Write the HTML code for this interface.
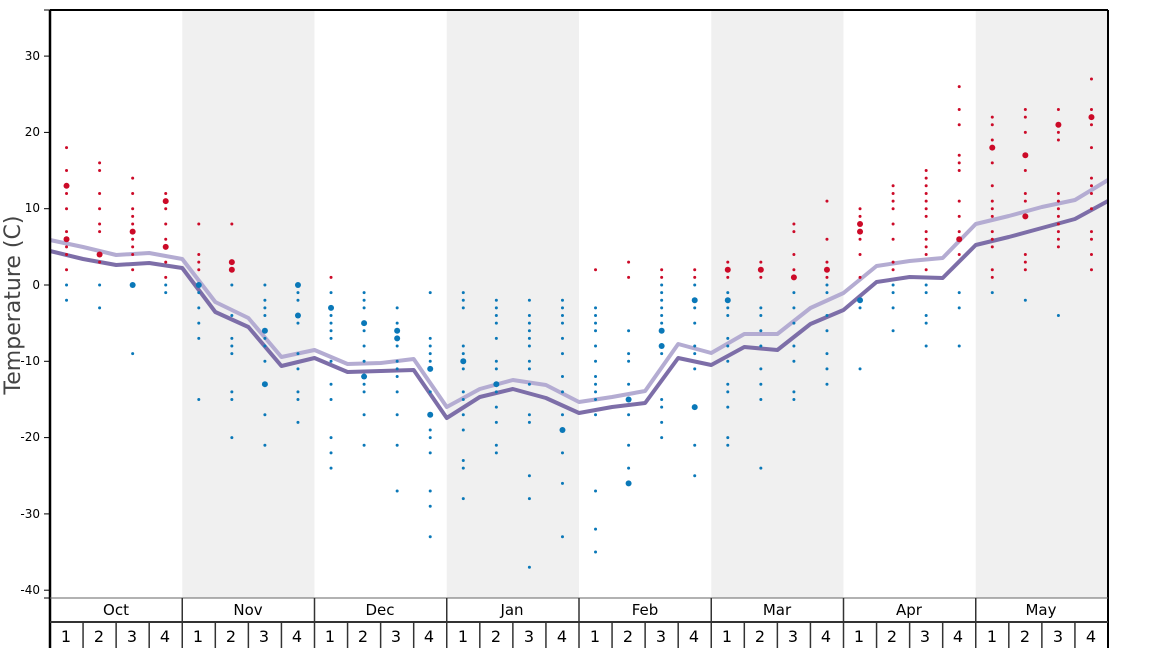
<!DOCTYPE html>
<html><head><meta charset="utf-8"><style>
html,body{margin:0;padding:0;background:#fff}
svg{display:block;font-family:"DejaVu Sans","Liberation Sans",sans-serif}
</style></head><body>
<svg id="s" width="1168" height="648" viewBox="0 0 1168 648">
<g id="bg"></g>
<g id="lines"></g>
<g id="dots"></g>
<g font-size="12" fill="#000" text-anchor="end">
<text x="40" y="60">30</text><text x="40" y="136">20</text><text x="40" y="212">10</text>
<text x="40" y="289">0</text><text x="40" y="365">-10</text><text x="40" y="441">-20</text>
<text x="40" y="518">-30</text><text x="40" y="594">-40</text>
</g>
<text transform="translate(20,305) rotate(-90)" font-size="22" fill="#444" text-anchor="middle">Temperature (C)</text>
<g font-size="15" text-anchor="middle" fill="#000">
<text x="116" y="615">Oct</text><text x="248" y="615">Nov</text><text x="380" y="615">Dec</text><text x="512" y="615">Jan</text>
<text x="645" y="615">Feb</text><text x="777" y="615">Mar</text><text x="909" y="615">Apr</text><text x="1041" y="615">May</text>
</g>
<g id="wk" font-size="16" text-anchor="middle" fill="#000">
<text x="66" y="642">1</text><text x="99" y="642">2</text><text x="132" y="642">3</text><text x="165" y="642">4</text>
<text x="198" y="642">1</text><text x="231" y="642">2</text><text x="264" y="642">3</text><text x="297" y="642">4</text>
<text x="330" y="642">1</text><text x="363" y="642">2</text><text x="396" y="642">3</text><text x="429" y="642">4</text>
<text x="463" y="642">1</text><text x="496" y="642">2</text><text x="529" y="642">3</text><text x="562" y="642">4</text>
<text x="595" y="642">1</text><text x="628" y="642">2</text><text x="661" y="642">3</text><text x="694" y="642">4</text>
<text x="727" y="642">1</text><text x="760" y="642">2</text><text x="793" y="642">3</text><text x="826" y="642">4</text>
<text x="859" y="642">1</text><text x="892" y="642">2</text><text x="925" y="642">3</text><text x="958" y="642">4</text>
<text x="992" y="642">1</text><text x="1025" y="642">2</text><text x="1058" y="642">3</text><text x="1091" y="642">4</text>
</g>
<g id="frame"></g>
</svg>
<script>
const NS="http://www.w3.org/2000/svg";
function el(p,t,a){const e=document.createElementNS(NS,t);for(const k in a)e.setAttribute(k,a[k]);document.getElementById(p).appendChild(e);return e;}
const L=50,R=1108,T=10,B=598,mw=(R-L)/8,ww=mw/4;
for(let m=1;m<8;m+=2)el("bg","rect",{x:L+m*mw,y:T,width:mw,height:B-T,fill:"#f0f0f0"});
const Y=v=>285-v*7.63;
const bx=[];for(let i=0;i<=32;i++)bx.push(L+i*ww);
const dark=[251,259,265,263,268,312,327,366,358,372,371,370,418,397,389,398,413,407,403,358,365,347,350,324,310,282,277,278,245,237,228,219,201];
const light=[240,247,255,253,259,302,318,357,350,364,363,359,407,389,380,385,402,397,391,344,353,334,334,308,293,266,261,258,224,216,207,200,180];
el("lines","polyline",{points:bx.map((x,i)=>x+","+light[i]).join(" "),fill:"none",stroke:"#b4acd2",'stroke-width':4,'stroke-linejoin':"round"});
el("lines","polyline",{points:bx.map((x,i)=>x+","+dark[i]).join(" "),fill:"none",stroke:"#7d6ea8",'stroke-width':4,'stroke-linejoin':"round"});
// values; "b" suffix = big dot
const W=[
"18 15 13b 12 10 7 6b 5 4 2 0 -2","16 15 12 10 8 7 4b 3 0 -3","14 12 10 9 8 7b 6 5 4 2 0b -9","12 11b 10 8 6 5b 3 1 0 -1",
"8 4 3 2 0b -1 -3 -5 -7 -15","8 3b 2b 0 -4 -7 -8 -9 -14 -15 -20","0 -2 -3 -4 -6b -7 -8 -10 -13b -17 -21","0b -1 -2 -4b -5 -9 -11 -14 -15 -18",
"1 -1 -3b -4 -5 -6 -7 -10 -13 -15 -20 -22 -24","-1 -2 -3 -5b -6 -8 -10 -12b -13 -14 -17 -21","-3 -5 -6b -7b -8 -10 -11 -12 -14 -17 -21 -27","-1 -7 -8 -9 -10 -11b -14 -17b -19 -20 -22 -27 -29 -33",
"-1 -2 -3 -8 -9 -10b -11 -14 -15 -17 -19 -23 -24 -28","-2 -3 -4 -5 -7 -10 -11 -13b -14 -16 -18 -21 -22","-2 -4 -5 -6 -7 -8 -10 -11 -13 -17 -18 -25 -28 -37","-2 -3 -4 -5 -7 -9 -12 -14 -17 -19b -22 -26 -33",
"2 -3 -4 -5 -6 -8 -10 -12 -13 -14 -15 -17 -27 -32 -35","3 1 -6 -9 -10 -13 -15b -17 -21 -24 -26b","2 1 0 -1 -2 -3 -4 -5 -6b -8b -9 -15 -16 -18 -20","2 1 0 -2b -3 -5 -8 -9 -11 -16b -21 -25",
"3 2b 1 -1 -2b -3 -4 -7 -8 -10 -13 -14 -16 -20 -21","3 2b 1 -3 -4 -6 -8 -11 -13 -15 -24","8 7 4 2 1b -1 -3 -5 -8 -10 -14 -15","11 6 3 2b 1 0 -1 -4 -6 -9 -11 -13",
"10 9 8b 7b 6 4 1 -2b -3 -11","13 12 11 10 8 6 3 2 0 -1 -3 -6","15 14 13 12 11 10 9 7 6 5 4 2 0 -1 -4 -5 -8","26 23 21 17 16 15 11 9 7 6b 4 -1 -3 -8",
"22 21 19 18b 16 13 11 10 9 7 6 5 2 1 -1","23 22 20 17b 15 12 11 9b 4 3 2 -2","23 21b 20 19 12 11 10 9 8 7 6 5 -4","27 23 22b 21 18 14 13 12 10 7 6 4 2"];
W.forEach((s,i)=>{const x=L+(i+0.5)*ww;s.split(" ").forEach(t=>{const big=t.endsWith("b");const v=parseFloat(t);
el("dots","circle",{cx:x,cy:Y(v),r:big?3:1.5,fill:v>0?"#cc0a28":"#0a78b8"});});});
// frame
el("frame","line",{x1:L,y1:T,x2:R,y2:T,stroke:"#000",'stroke-width':2});
el("frame","line",{x1:R,y1:T,x2:R,y2:648,stroke:"#000",'stroke-width':2});
el("frame","line",{x1:L,y1:T,x2:L,y2:648,stroke:"#000",'stroke-width':2.5});
el("frame","line",{x1:L,y1:B,x2:R,y2:B,stroke:"#666",'stroke-width':1});
el("frame","line",{x1:L,y1:622,x2:R,y2:622,stroke:"#333",'stroke-width':2});
for(let m=1;m<8;m++)el("frame","line",{x1:L+m*mw,y1:B,x2:L+m*mw,y2:648,stroke:"#333",'stroke-width':1.5});
for(let i=1;i<32;i++)if(i%4)el("frame","line",{x1:L+i*ww,y1:622,x2:L+i*ww,y2:648,stroke:"#333",'stroke-width':1.5});
[30,20,10,0,-10,-20,-30,-40].forEach(v=>el("frame","line",{x1:44,y1:Y(v),x2:L,y2:Y(v),stroke:"#000",'stroke-width':1}));
el("frame","line",{x1:44,y1:T,x2:L,y2:T,stroke:"#000",'stroke-width':1});
el("frame","line",{x1:44,y1:B,x2:L,y2:B,stroke:"#000",'stroke-width':1});
</script>
</body></html>
